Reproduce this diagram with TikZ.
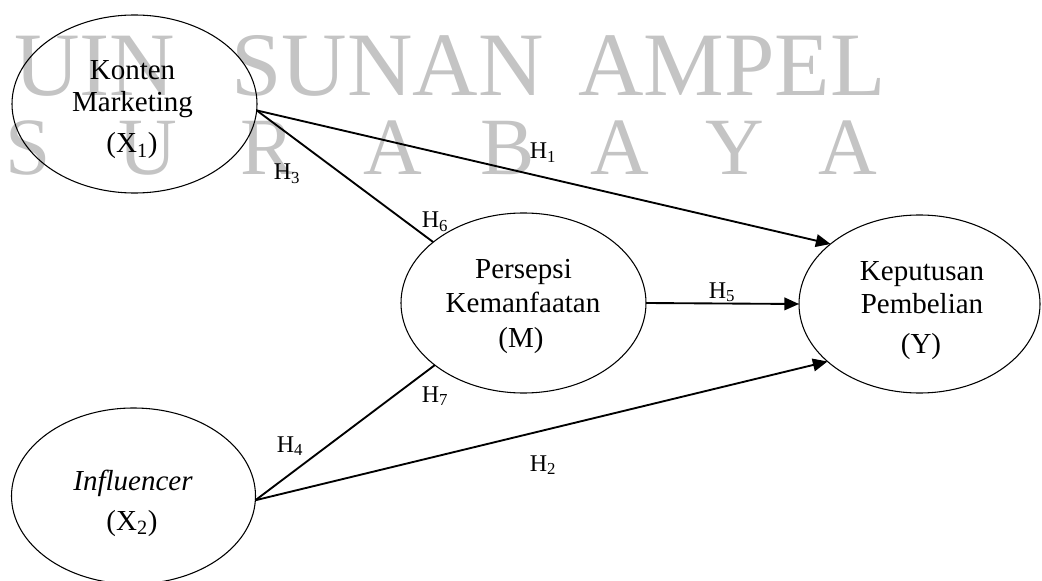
\documentclass[tikz,border=0pt]{standalone}
\usepackage{fontspec}
\setmainfont{Liberation Serif}
\usetikzlibrary{arrows.meta,shapes.geometric}
\tikzset{
  var/.style={draw=black, line width=0.8pt, ellipse, inner sep=0pt, outer sep=0pt},
  txt/.style={anchor=base, inner sep=0pt, font=\fontsize{21.75pt}{24pt}\selectfont},
  hyp/.style={anchor=base, inner sep=0pt, font=\fontsize{18pt}{20pt}\selectfont},
  wmA/.style={anchor=base west, inner sep=0pt, text=black!23, font=\fontsize{68pt}{70pt}\selectfont},
  wmB/.style={anchor=base, inner sep=0pt, text=black!23, font=\fontsize{61pt}{63pt}\selectfont},
  link/.style={line width=1.4pt},
  arr/.style={line width=1.4pt, -{Triangle[length=11pt,width=9.5pt]}}
}
\begin{document}
\begin{tikzpicture}[x=0.75pt, y=-0.75pt]
\useasboundingbox (0,0) rectangle (1042,581);
% watermark
\node[wmA] (w1) at (14,96) {UIN};
\node[wmA] (w2) at (231,96) {SUNAN};
\node[wmA] (w3) at (578,96) {AMPEL};
\node[wmB] (s1) at (28,175) {S};
\node[wmB] (s2) at (148,175) {U};
\node[wmB] (s3) at (268,175) {R};
\node[wmB] (s4) at (393,175) {A};
\node[wmB] (s5) at (508,175) {B};
\node[wmB] (s6) at (620,175) {A};
\node[wmB] (s7) at (735,175) {Y};
\node[wmB] (s8) at (848,175) {A};
% variables
\node[var, minimum width=183.75pt, minimum height=133.5pt] (X1) at (134.5,104) {};
\node[var, minimum width=183pt, minimum height=132pt] (X2) at (133.5,496) {};
\node[var, minimum width=183.75pt, minimum height=135pt] (M) at (523.5,303) {};
\node[var, minimum width=180.75pt, minimum height=133.5pt] (Y) at (919.5,304) {};
% texts
\node[txt] (X1a) at (132.5,80) {Konten};
\node[txt] (X1b) at (132.5,112) {Marketing};
\node[txt] (X1c) at (132,153) {(X\textsubscript{1})};
\node[txt] (X2a) at (133,490) {\itshape Influencer};
\node[txt] (X2b) at (132,530) {(X\textsubscript{2})};
\node[txt] (Ma) at (523.5,278) {Persepsi};
\node[txt] (Mb) at (523,312) {Kemanfaatan};
\node[txt] (Mc) at (521,347) {(M)};
\node[txt] (Ya) at (922,280) {Keputusan};
\node[txt] (Yb) at (922,313) {Pembelian};
\node[txt] (Yc) at (921,353) {(Y)};
% connectors
\draw[arr] (X1.-3) -- (Y.146);
\draw[link] (X1.-3) -- (M.146.5);
\draw[link] (X2.-2) -- (M.215);
\draw[arr] (X2.-2) -- (Y.212);
\draw[arr] (M.0) -- (Y.180);
% hypothesis labels
\node[hyp] (h1) at (543,159) {H\textsubscript{1}};
\node[hyp] (h3) at (287,180) {H\textsubscript{3}};
\node[hyp] (h6) at (435,228) {H\textsubscript{6}};
\node[hyp] (h5) at (722,298) {H\textsubscript{5}};
\node[hyp] (h7) at (435,402) {H\textsubscript{7}};
\node[hyp] (h4) at (290,452) {H\textsubscript{4}};
\node[hyp] (h2) at (543,471) {H\textsubscript{2}};
\end{tikzpicture}
\end{document}
